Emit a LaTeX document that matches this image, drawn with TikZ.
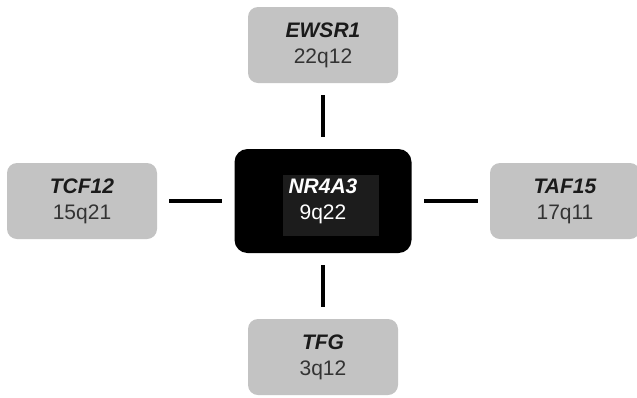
\documentclass[tikz,border=0pt]{standalone}
\usepackage{fontspec}
\setmainfont{Liberation Sans}
\usepackage{tikz}
\usetikzlibrary{positioning}
\definecolor{cBox}   {HTML}{C3C3C3}
\definecolor{cInner} {HTML}{1C1C1C}
\definecolor{cGene}  {HTML}{1A1A1A}
\definecolor{cBand}  {HTML}{333333}
\newcommand{\gene}[1]{{\bfseries\itshape\color{cGene}#1}}

\begin{document}
\begin{tikzpicture}[x=1pt, y=-1pt,
    partner/.style={fill=cBox, rounded corners=10pt, minimum width=150pt,
      minimum height=76pt, inner sep=0pt, align=center, text=cBand,
      font=\fontsize{21}{26}\selectfont},
    hub/.style={fill=black, rounded corners=13pt, minimum width=177pt,
      minimum height=104pt, inner sep=0pt},
    core/.style={fill=cInner, minimum width=96pt, minimum height=61pt, inner sep=0pt},
    hubtext/.style={align=center, text=white, inner sep=0pt,
      font=\fontsize{21}{26}\selectfont},
    link/.style={line width=4pt, shorten <=12pt, shorten >=12pt}]
  \useasboundingbox[fill=white] (0, 0) rectangle (637, 397);
  % fusion hub
  \node[hub] (hub) at (323, 201) {};
  \node[core] (core) at (331, 205.5) {};
  \node[hubtext] (nr) at (323, 201) {{\bfseries\itshape NR4A3}\\9q22};
  % partners
  \node[partner] (ewsr) at (323, 45)  {\gene{EWSR1}\\22q12};
  \node[partner] (tcf)  at (82, 201)  {\gene{TCF12}\\15q21};
  \node[partner] (taf)  at (565, 201) {\gene{TAF15}\\17q11};
  \node[partner] (tfg)  at (323, 357) {\gene{TFG}\\3q12};
  \draw[link] (ewsr) -- (hub);
  \draw[link] (tcf) -- (hub);
  \draw[link] (taf) -- (hub);
  \draw[link] (tfg) -- (hub);
\end{tikzpicture}
\end{document}
